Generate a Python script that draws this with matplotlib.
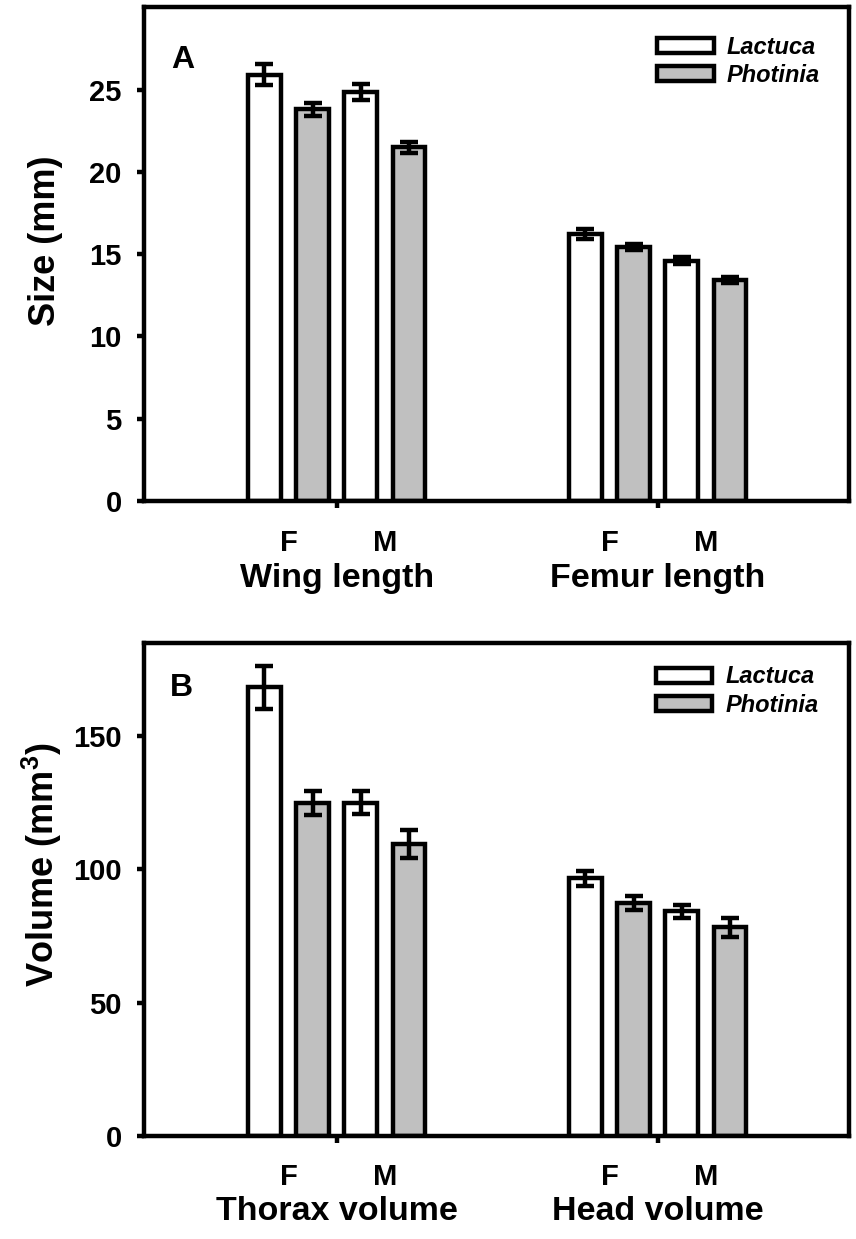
import numpy as np
import matplotlib
matplotlib.use('Agg')
import matplotlib.pyplot as plt
from matplotlib.patches import Patch
from matplotlib import transforms

plt.rcParams['font.family'] = ['Liberation Sans', 'DejaVu Sans']
plt.rcParams['font.weight'] = 'bold'
plt.rcParams['mathtext.fontset'] = 'custom'
plt.rcParams['mathtext.rm'] = 'Liberation Sans'
plt.rcParams['mathtext.bf'] = 'Liberation Sans:bold'

# data: [F Lactuca, F Photinia, M Lactuca, M Photinia]
size_groups = ['Wing length', 'Femur length']
wing_mean = [25.9, 23.8, 24.85, 21.5]
wing_se = [0.65, 0.4, 0.5, 0.33]
femur_mean = [16.2, 15.42, 14.6, 13.42]
femur_se = [0.3, 0.18, 0.22, 0.2]

vol_groups = ['Thorax volume', 'Head volume']
thorax_mean = [168.2, 125.0, 125.0, 109.5]
thorax_se = [8.0, 4.5, 4.2, 5.3]
head_mean = [96.6, 87.4, 84.3, 78.3]
head_se = [2.8, 2.6, 2.5, 3.6]

sexes = ['F', 'M']
hosts = ['Lactuca', 'Photinia']
host_colors = ['white', '#c0c0c0']

LW = 3.2
group_pos = [4.0, 10.66]
offsets = [-1.5, -0.5, 0.5, 1.5]
BAR_W = 0.68

FIG = plt.figure(figsize=(8.56, 12.39), dpi=100)
axA = FIG.add_axes([0.16822, 0.59564, 0.8236, 0.39847])
axB = FIG.add_axes([0.16822, 0.08313, 0.8236, 0.39766])


def draw_panel(ax, means, ses, groups, ylim, yticks, ylabel, letter, lab_xy,
               ylab_xy, leg_anchor, fm_y, grp_y):
    for g, (m, s) in enumerate(zip(means, ses)):
        for i in range(4):
            x = group_pos[g] + offsets[i]
            ax.bar(x, m[i], width=BAR_W, color=host_colors[i % 2],
                   edgecolor='black', linewidth=LW, zorder=2)
            ax.errorbar(x, m[i], yerr=s[i], fmt='none', ecolor='black',
                        elinewidth=LW, capsize=6.5, capthick=LW, zorder=3)
    ax.set_xlim(0, 14.63)
    ax.set_ylim(*ylim)
    ax.set_yticks(yticks)
    ax.set_yticklabels([str(t) for t in yticks], fontsize=21, fontweight='bold')
    ax.set_xticks(group_pos)
    ax.set_xticklabels([])
    ax.tick_params(axis='y', direction='out', length=5, width=LW, pad=11)
    ax.tick_params(axis='x', direction='out', length=5, width=LW)
    for sp in ax.spines.values():
        sp.set_linewidth(LW)

    trans = transforms.blended_transform_factory(ax.transData, ax.transAxes)
    for g in range(2):
        for k, sx in enumerate(sexes):
            xc = group_pos[g] + (offsets[2 * k] + offsets[2 * k + 1]) / 2
            ax.text(xc, fm_y, sx, transform=trans, ha='center', va='center',
                    fontsize=21, fontweight='bold')
        ax.text(group_pos[g], grp_y, groups[g], transform=trans, ha='center',
                va='center', fontsize=24.5, fontweight='bold')

    ax.text(lab_xy[0], lab_xy[1], letter, transform=ax.transAxes, ha='center',
            va='center', fontsize=23, fontweight='bold')
    ax.text(ylab_xy[0], ylab_xy[1], ylabel, transform=ax.transAxes, rotation=90,
            ha='center', va='center', fontsize=26, fontweight='bold')

    handles = [Patch(facecolor=host_colors[i], edgecolor='black', linewidth=LW,
                     label=hosts[i]) for i in range(2)]
    leg = ax.legend(handles=handles, loc='upper left', bbox_to_anchor=leg_anchor,
                    frameon=False, borderpad=0, borderaxespad=0,
                    handlelength=2.4, handleheight=0.6, handletextpad=0.55,
                    labelspacing=0.22,
                    prop={'size': 17, 'weight': 'bold', 'style': 'italic'})
    return leg


draw_panel(axA, [wing_mean, femur_mean], [wing_se, femur_se], size_groups,
           (0, 30), [0, 5, 10, 15, 20, 25], 'Size (mm)', 'A', (0.055, 0.893),
           (-0.14, 0.527), (0.728, 0.942), -0.085, -0.156)
draw_panel(axB, [thorax_mean, head_mean], [thorax_se, head_se], vol_groups,
           (0, 184.75), [0, 50, 100, 150], 'Volume (mm$^{3}$)', 'B', (0.053, 0.91),
           (-0.145, 0.55), (0.726, 0.955), -0.083, -0.154)

plt.savefig('out.png', dpi=100)
